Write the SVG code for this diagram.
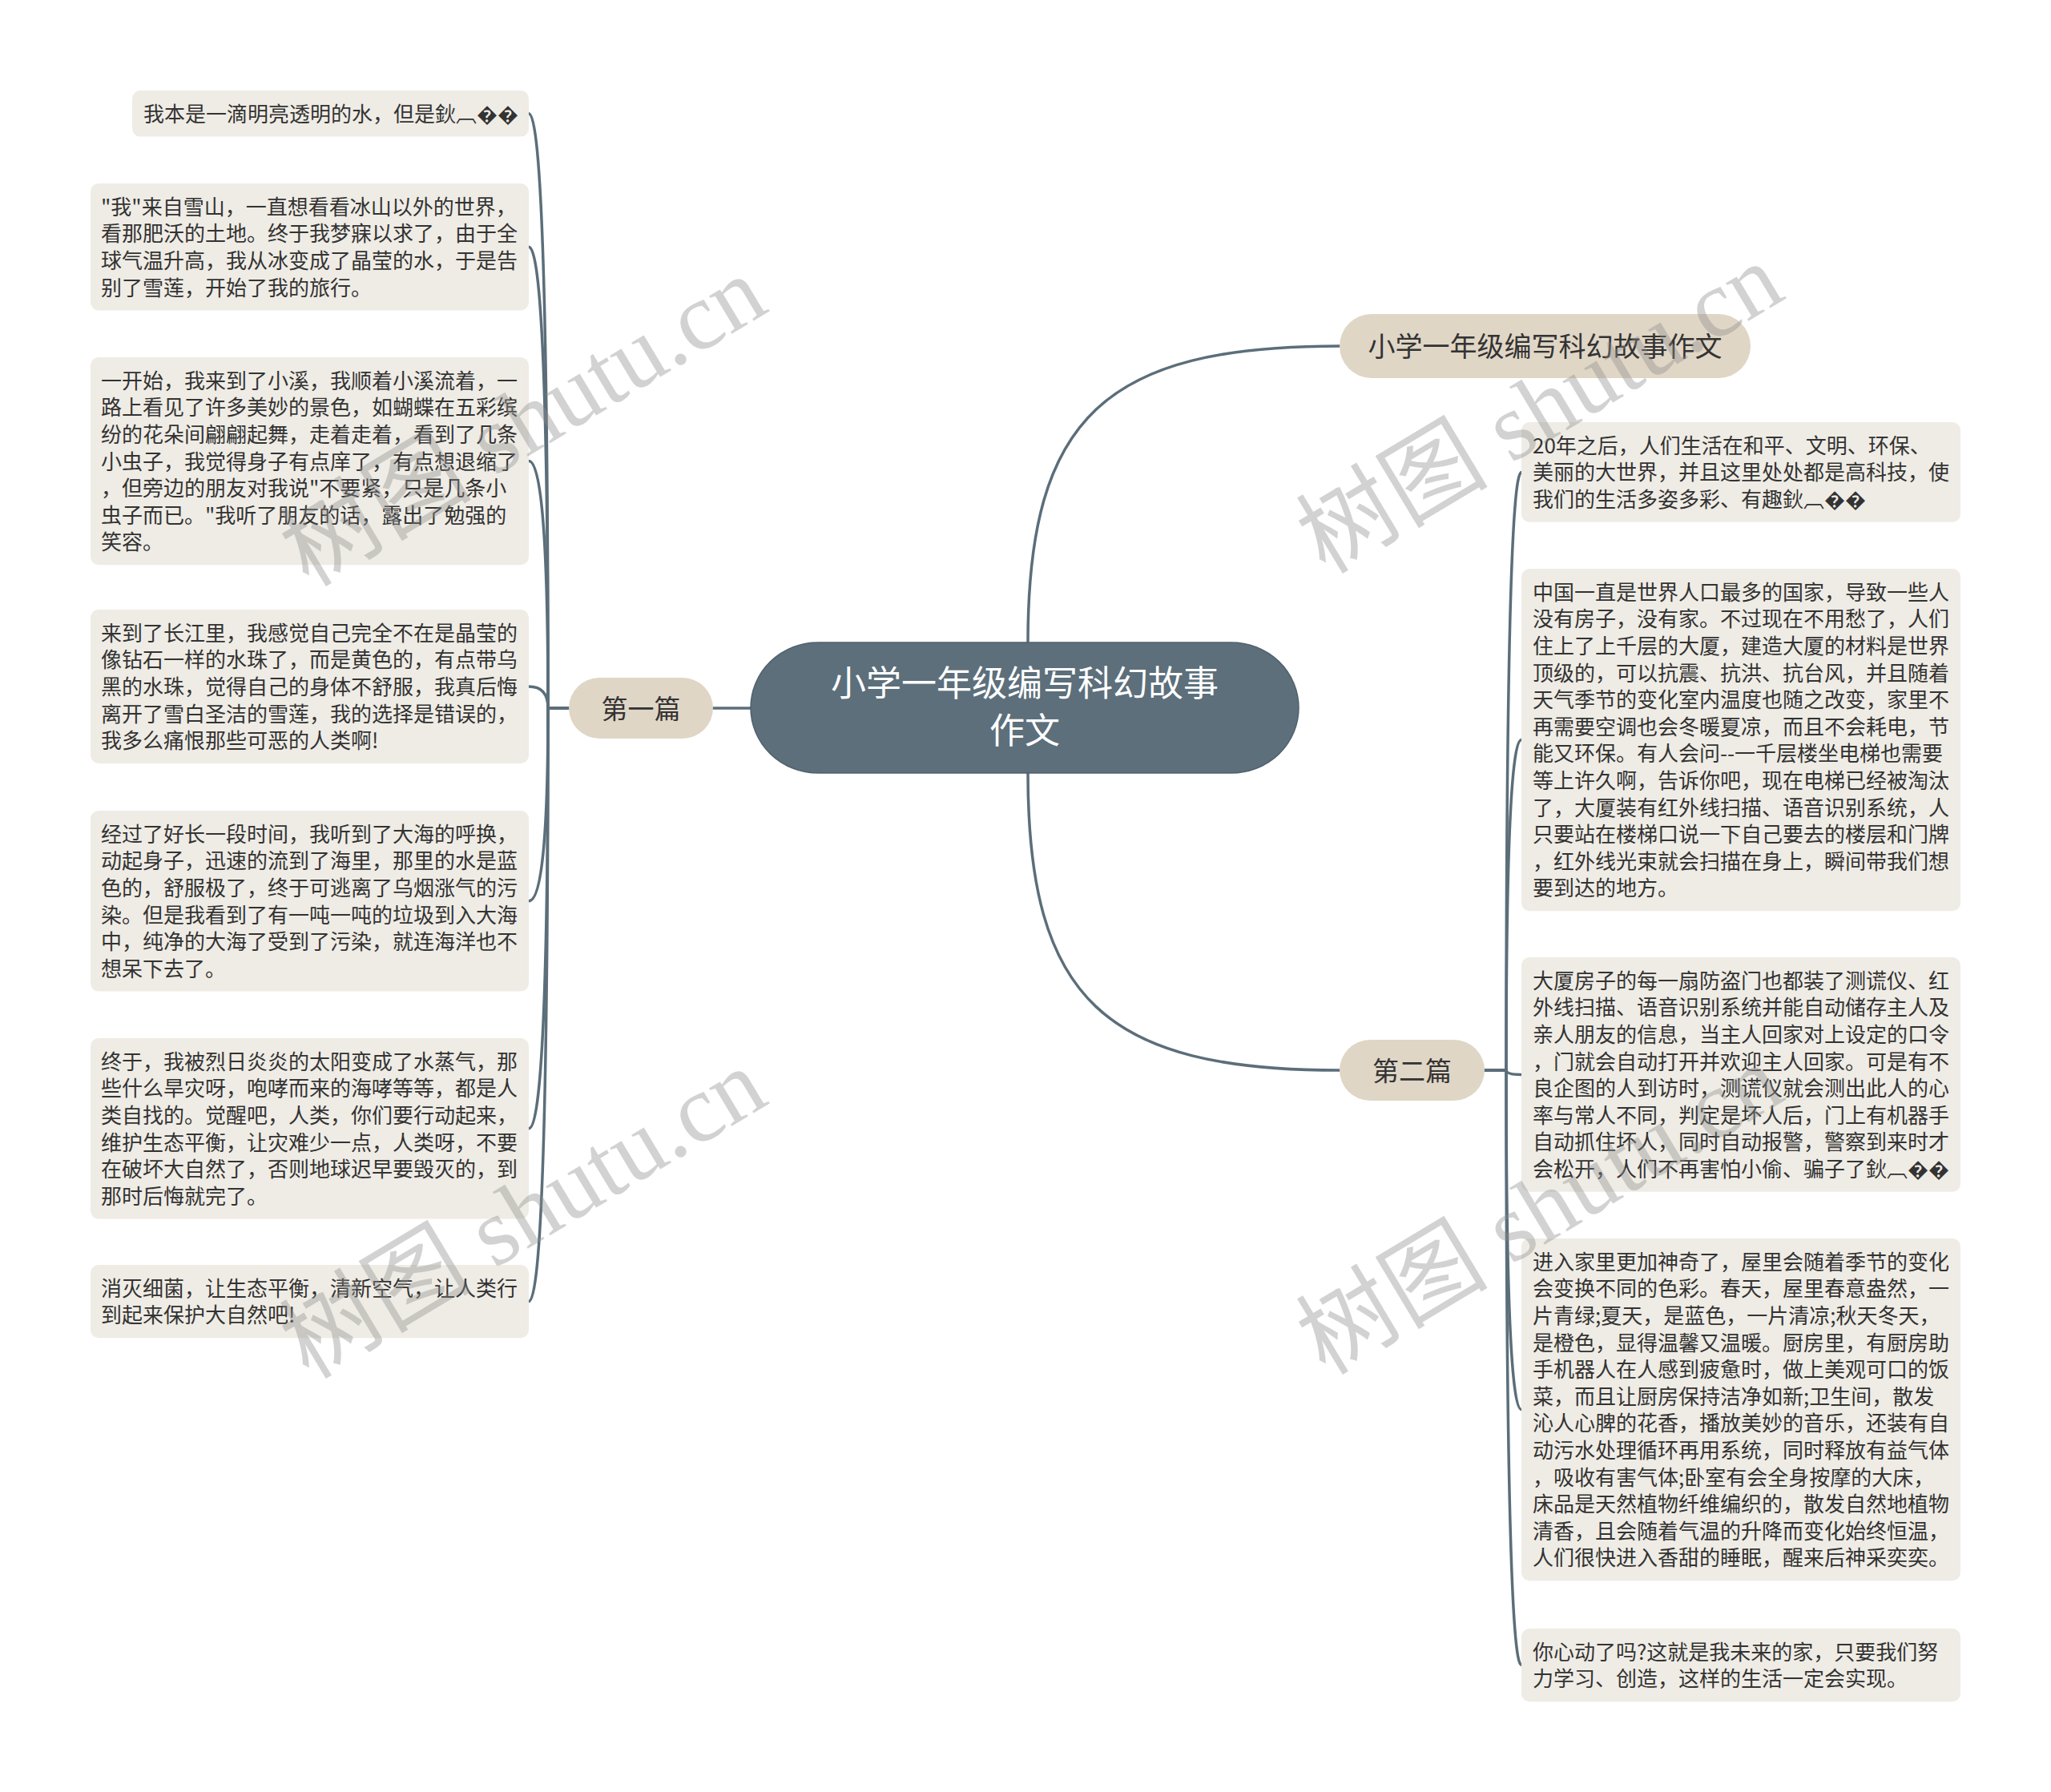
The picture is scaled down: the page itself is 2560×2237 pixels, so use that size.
<svg xmlns="http://www.w3.org/2000/svg" width="2560" height="2237" viewBox="0 0 2560 2237">
<style>
.leaf rect{fill:#efece5}
.leaf text{font-family:"Noto Sans CJK SC","Liberation Sans",sans-serif;font-size:26px;fill:#333333}
.branch rect{fill:#e0d6c6}
.branch text{font-family:"Noto Sans CJK SC","Liberation Sans",sans-serif;fill:#333333;text-anchor:middle}
.conn path{fill:none;stroke:#5b6e7a;stroke-width:3.5;stroke-linecap:round}
.wm{font-family:"Liberation Serif","Noto Sans CJK SC",serif;font-size:120px;fill:#8c8c8c;opacity:0.38;text-anchor:middle;dominant-baseline:central}
</style>
<rect width="2560" height="2237" fill="#ffffff"/>
<g id="connectors" class="conn">
<path d="M1283 802 C1283 520 1380 432 1672 432"/>
<path d="M1283 965 C1283 1248 1380 1336 1672 1336"/>
<path d="M937 884 H890"/>
<path d="M710 884 H684 Q684 141.8 660 141.8"/>
<path d="M710 884 H684 Q684 308.2 660 308.2"/>
<path d="M710 884 H684 Q684 575.6 660 575.6"/>
<path d="M710 884 H684 Q684 857 660 857"/>
<path d="M710 884 H684 Q684 1124.8 660 1124.8"/>
<path d="M710 884 H684 Q684 1408.8 660 1408.8"/>
<path d="M710 884 H684 Q684 1624.6 660 1624.6"/>
<path d="M1853 1336 H1880 Q1880 589.4 1899 589.4"/>
<path d="M1853 1336 H1880 Q1880 923.6 1899 923.6"/>
<path d="M1853 1336 H1880 Q1880 1341.4 1899 1341.4"/>
<path d="M1853 1336 H1880 Q1880 1759.6 1899 1759.6"/>
<path d="M1853 1336 H1880 Q1880 2078.6 1899 2078.6"/>
</g>
<g id="root">
<rect x="937" y="802" width="684" height="163" rx="84" ry="81.5" fill="#5c6f7b" stroke="#50626d" stroke-width="1.5"/>
<text x="1279" y="868.5" font-family="Noto Sans CJK SC, Liberation Sans, sans-serif" font-size="44" fill="#ffffff" text-anchor="middle">小学一年级编写科幻故事</text>
<text x="1279" y="927.5" font-family="Noto Sans CJK SC, Liberation Sans, sans-serif" font-size="44" fill="#ffffff" text-anchor="middle">作文</text>
</g>
<g id="branch-title" class="branch">
<rect x="1672" y="392" width="513" height="80" rx="40"/>
<text x="1928.5" y="445" font-size="34">小学一年级编写科幻故事作文</text>
</g>
<g id="branch-1" class="branch">
<rect x="710" y="846" width="180" height="76" rx="38"/>
<text x="800" y="896.5" font-size="33">第一篇</text>
</g>
<g id="branch-2" class="branch">
<rect x="1672" y="1298" width="181" height="76" rx="38"/>
<text x="1762.5" y="1348.5" font-size="33">第二篇</text>
</g>
<g id="leaf-l1" class="leaf">
<rect x="165" y="113" width="495" height="57.6" rx="10"/>
<text x="179" y="151.7">我本是一滴明亮透明的水，但是鈥︹��</text>
</g>
<g id="leaf-l2" class="leaf">
<rect x="113" y="229" width="547" height="158.4" rx="10"/>
<text x="126"><tspan x="126" y="267.7">"我"来自雪山，一直想看看冰山以外的世界，</tspan><tspan x="126" y="301.3">看那肥沃的土地。终于我梦寐以求了，由于全</tspan><tspan x="126" y="334.9">球气温升高，我从冰变成了晶莹的水，于是告</tspan><tspan x="126" y="368.5">别了雪莲，开始了我的旅行。</tspan></text>
</g>
<g id="leaf-l3" class="leaf">
<rect x="113" y="446" width="547" height="259.2" rx="10"/>
<text x="126"><tspan x="126" y="484.7">一开始，我来到了小溪，我顺着小溪流着，一</tspan><tspan x="126" y="518.3">路上看见了许多美妙的景色，如蝴蝶在五彩缤</tspan><tspan x="126" y="551.9">纷的花朵间翩翩起舞，走着走着，看到了几条</tspan><tspan x="126" y="585.5">小虫子，我觉得身子有点庠了，有点想退缩了</tspan><tspan x="126" y="619.1">，但旁边的朋友对我说"不要紧，只是几条小</tspan><tspan x="126" y="652.7">虫子而已。"我听了朋友的话，露出了勉强的</tspan><tspan x="126" y="686.3">笑容。</tspan></text>
</g>
<g id="leaf-l4" class="leaf">
<rect x="113" y="761" width="547" height="192" rx="10"/>
<text x="126"><tspan x="126" y="799.7">来到了长江里，我感觉自己完全不在是晶莹的</tspan><tspan x="126" y="833.3">像钻石一样的水珠了，而是黄色的，有点带乌</tspan><tspan x="126" y="866.9">黑的水珠，觉得自己的身体不舒服，我真后悔</tspan><tspan x="126" y="900.5">离开了雪白圣洁的雪莲，我的选择是错误的，</tspan><tspan x="126" y="934.1">我多么痛恨那些可恶的人类啊!</tspan></text>
</g>
<g id="leaf-l5" class="leaf">
<rect x="113" y="1012" width="547" height="225.6" rx="10"/>
<text x="126"><tspan x="126" y="1050.7">经过了好长一段时间，我听到了大海的呼换，</tspan><tspan x="126" y="1084.3">动起身子，迅速的流到了海里，那里的水是蓝</tspan><tspan x="126" y="1117.9">色的，舒服极了，终于可逃离了乌烟涨气的污</tspan><tspan x="126" y="1151.5">染。但是我看到了有一吨一吨的垃圾到入大海</tspan><tspan x="126" y="1185.1">中，纯净的大海了受到了污染，就连海洋也不</tspan><tspan x="126" y="1218.7">想呆下去了。</tspan></text>
</g>
<g id="leaf-l6" class="leaf">
<rect x="113" y="1296" width="547" height="225.6" rx="10"/>
<text x="126"><tspan x="126" y="1334.7">终于，我被烈日炎炎的太阳变成了水蒸气，那</tspan><tspan x="126" y="1368.3">些什么旱灾呀，咆哮而来的海哮等等，都是人</tspan><tspan x="126" y="1401.9">类自找的。觉醒吧，人类，你们要行动起来，</tspan><tspan x="126" y="1435.5">维护生态平衡，让灾难少一点，人类呀，不要</tspan><tspan x="126" y="1469.1">在破坏大自然了，否则地球迟早要毁灭的，到</tspan><tspan x="126" y="1502.7">那时后悔就完了。</tspan></text>
</g>
<g id="leaf-l7" class="leaf">
<rect x="113" y="1579" width="547" height="91.2" rx="10"/>
<text x="126"><tspan x="126" y="1617.7">消灭细菌，让生态平衡，清新空气，让人类行</tspan><tspan x="126" y="1651.3">到起来保护大自然吧!</tspan></text>
</g>
<g id="leaf-r1" class="leaf">
<rect x="1899" y="527" width="548" height="124.8" rx="10"/>
<text x="1913"><tspan x="1913" y="565.7">20年之后，人们生活在和平、文明、环保、</tspan><tspan x="1913" y="599.3">美丽的大世界，并且这里处处都是高科技，使</tspan><tspan x="1913" y="632.9">我们的生活多姿多彩、有趣鈥︹��</tspan></text>
</g>
<g id="leaf-r2" class="leaf">
<rect x="1899" y="710" width="548" height="427.2" rx="10"/>
<text x="1913"><tspan x="1913" y="748.7">中国一直是世界人口最多的国家，导致一些人</tspan><tspan x="1913" y="782.3">没有房子，没有家。不过现在不用愁了，人们</tspan><tspan x="1913" y="815.9">住上了上千层的大厦，建造大厦的材料是世界</tspan><tspan x="1913" y="849.5">顶级的，可以抗震、抗洪、抗台风，并且随着</tspan><tspan x="1913" y="883.1">天气季节的变化室内温度也随之改变，家里不</tspan><tspan x="1913" y="916.7">再需要空调也会冬暖夏凉，而且不会耗电，节</tspan><tspan x="1913" y="950.3">能又环保。有人会问--一千层楼坐电梯也需要</tspan><tspan x="1913" y="983.9">等上许久啊，告诉你吧，现在电梯已经被淘汰</tspan><tspan x="1913" y="1017.5">了，大厦装有红外线扫描、语音识别系统，人</tspan><tspan x="1913" y="1051.1">只要站在楼梯口说一下自己要去的楼层和门牌</tspan><tspan x="1913" y="1084.7">，红外线光束就会扫描在身上，瞬间带我们想</tspan><tspan x="1913" y="1118.3">要到达的地方。</tspan></text>
</g>
<g id="leaf-r3" class="leaf">
<rect x="1899" y="1195" width="548" height="292.8" rx="10"/>
<text x="1913"><tspan x="1913" y="1233.7">大厦房子的每一扇防盗门也都装了测谎仪、红</tspan><tspan x="1913" y="1267.3">外线扫描、语音识别系统并能自动储存主人及</tspan><tspan x="1913" y="1300.9">亲人朋友的信息，当主人回家对上设定的口令</tspan><tspan x="1913" y="1334.5">，门就会自动打开并欢迎主人回家。可是有不</tspan><tspan x="1913" y="1368.1">良企图的人到访时，测谎仪就会测出此人的心</tspan><tspan x="1913" y="1401.7">率与常人不同，判定是坏人后，门上有机器手</tspan><tspan x="1913" y="1435.3">自动抓住坏人，同时自动报警，警察到来时才</tspan><tspan x="1913" y="1468.9">会松开，人们不再害怕小偷、骗子了鈥︹��</tspan></text>
</g>
<g id="leaf-r4" class="leaf">
<rect x="1899" y="1546" width="548" height="427.2" rx="10"/>
<text x="1913"><tspan x="1913" y="1584.7">进入家里更加神奇了，屋里会随着季节的变化</tspan><tspan x="1913" y="1618.3">会变换不同的色彩。春天，屋里春意盎然，一</tspan><tspan x="1913" y="1651.9">片青绿;夏天，是蓝色，一片清凉;秋天冬天，</tspan><tspan x="1913" y="1685.5">是橙色，显得温馨又温暖。厨房里，有厨房助</tspan><tspan x="1913" y="1719.1">手机器人在人感到疲惫时，做上美观可口的饭</tspan><tspan x="1913" y="1752.7">菜，而且让厨房保持洁净如新;卫生间，散发</tspan><tspan x="1913" y="1786.3">沁人心脾的花香，播放美妙的音乐，还装有自</tspan><tspan x="1913" y="1819.9">动污水处理循环再用系统，同时释放有益气体</tspan><tspan x="1913" y="1853.5">，吸收有害气体;卧室有会全身按摩的大床，</tspan><tspan x="1913" y="1887.1">床品是天然植物纤维编织的，散发自然地植物</tspan><tspan x="1913" y="1920.7">清香，且会随着气温的升降而变化始终恒温，</tspan><tspan x="1913" y="1954.3">人们很快进入香甜的睡眠，醒来后神采奕奕。</tspan></text>
</g>
<g id="leaf-r5" class="leaf">
<rect x="1899" y="2033" width="548" height="91.2" rx="10"/>
<text x="1913"><tspan x="1913" y="2071.7">你心动了吗?这就是我未来的家，只要我们努</tspan><tspan x="1913" y="2105.3">力学习、创造，这样的生活一定会实现。</tspan></text>
</g>
<g id="watermarks">
<text class="wm" transform="translate(653 526) rotate(-31)">树图 shutu.cn</text>
<text class="wm" transform="translate(1922 510) rotate(-31)">树图 shutu.cn</text>
<text class="wm" transform="translate(653 1515) rotate(-31)">树图 shutu.cn</text>
<text class="wm" transform="translate(1922 1510) rotate(-31)">树图 shutu.cn</text>
</g>
</svg>
